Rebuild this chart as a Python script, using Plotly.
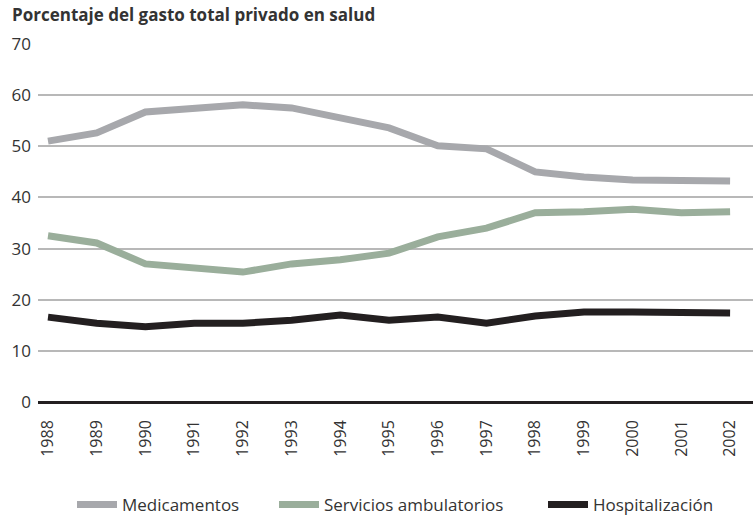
import plotly.graph_objects as go

years = list(range(1988, 2003))
medicamentos = [51.0, 52.6, 56.7, 57.5, 58.1, 57.5, 55.7, 53.6, 50.1, 49.5, 45.0, 44.0, 43.4, 43.2, 43.2]
servicios = [32.5, 31.1, 27.0, 26.2, 25.4, 27.0, 27.8, 29.1, 32.3, 34.0, 37.0, 37.2, 37.7, 37.0, 37.2]
hospitalizacion = [16.6, 15.4, 14.7, 15.4, 15.4, 16.0, 17.0, 16.0, 16.6, 15.4, 16.8, 17.6, 17.6, 17.4, 17.4]
names = ["Medicamentos", "Servicios ambulatorios", "Hospitalización"]
colors = ["#a7a8ac", "#9aae9b", "#231f20"]
title_text = "Porcentaje del gasto total privado en salud"
y_ticks = [0, 10, 20, 30, 40, 50, 60, 70]

W, H = 753, 516
L, R, T, B = 38, 0, 44, 114
pw = W - L - R
legend_keys = ["legend", "legend2", "legend3"]
legend_px = [72, 274, 543]

fig = go.Figure()
for name, vals, col, lk in zip(names, [medicamentos, servicios, hospitalizacion], colors, legend_keys):
    fig.add_trace(go.Scatter(x=years, y=vals, name=name, mode="lines",
                             line=dict(color=col, width=7), legend=lk))

layout_legends = {}
for lk, px in zip(legend_keys, legend_px):
    layout_legends[lk] = dict(orientation="h", xref="container", x=px / W, xanchor="left",
                              yref="container", y=1 - 487 / H, yanchor="top", itemwidth=40,
                              font=dict(size=17, color="#333333"),
                              bgcolor="rgba(0,0,0,0)")

fig.update_layout(
    width=W, height=H,
    margin=dict(l=L, r=R, t=T, b=B, autoexpand=False),
    paper_bgcolor="white", plot_bgcolor="white",
    font=dict(family="Open Sans, sans-serif", color="#333333"),
    title=dict(text="<b>" + title_text + "</b>", font=dict(size=17, color="#333333"),
               xref="container", x=12 / W, xanchor="left",
               yref="container", y=1 - 9 / H, yanchor="top"),
    xaxis=dict(range=[1987.795, 2002.47], tickmode="array", tickvals=years,
               ticktext=[str(y) for y in years], tickangle=-90, automargin=False,
               tickfont=dict(size=16, color="#333333"), showgrid=False,
               showline=False, zeroline=False, ticks="", ticklabelstandoff=14),
    yaxis=dict(range=[0, 70], tickvals=y_ticks, tickfont=dict(size=17, color="#333333"),
               showgrid=True, gridcolor="#b8b8b8", gridwidth=1.5, automargin=False,
               zeroline=True, zerolinecolor="#231f20", zerolinewidth=3,
               showline=False, ticks="", ticklabelstandoff=6),
    showlegend=True,
    **layout_legends,
)
fig.write_html("out.html")
